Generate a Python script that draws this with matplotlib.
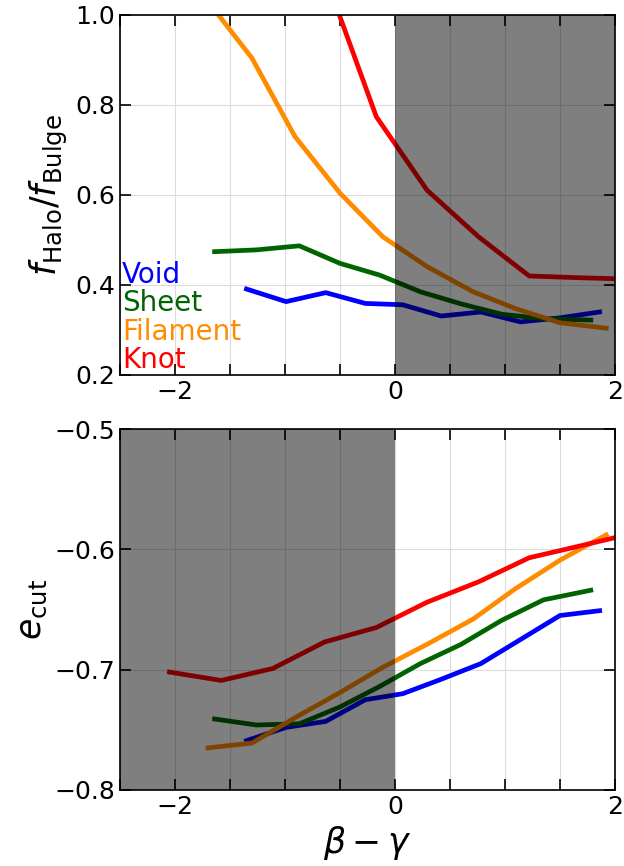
import matplotlib.pyplot as plt
from matplotlib.ticker import MultipleLocator

# top panel: f_Halo / f_Bulge
x_void = [-1.35, -0.99, -0.63, -0.27, 0.07, 0.42, 0.78, 1.14, 1.50, 1.86]
fr_void = [0.391, 0.363, 0.383, 0.359, 0.356, 0.331, 0.340, 0.318, 0.327, 0.340]
x_sheet = [-1.64, -1.26, -0.87, -0.50, -0.14, 0.23, 0.60, 0.97, 1.35, 1.78]
fr_sheet = [0.474, 0.478, 0.487, 0.448, 0.422, 0.385, 0.358, 0.335, 0.325, 0.322]
x_fil = [-1.70, -1.30, -0.91, -0.50, -0.11, 0.29, 0.71, 1.09, 1.50, 1.92]
fr_fil = [1.03, 0.904, 0.730, 0.604, 0.507, 0.441, 0.385, 0.348, 0.316, 0.304]
x_knot = [-2.05, -1.58, -1.11, -0.64, -0.17, 0.29, 0.76, 1.22, 1.69, 2.15]
fr_knot = [None, None, None, 1.09, 0.774, 0.611, 0.507, 0.420, 0.416, 0.413]

# bottom panel: e_cut
ec_void = [-0.759, -0.748, -0.743, -0.725, -0.720, -0.708, -0.695, -0.675, -0.655, -0.651]
ec_sheet = [-0.741, -0.746, -0.745, -0.731, -0.714, -0.695, -0.679, -0.659, -0.642, -0.634]
ec_fil = [-0.765, -0.761, -0.740, -0.719, -0.698, -0.679, -0.658, -0.633, -0.609, -0.588]
ec_knot = [-0.702, -0.709, -0.699, -0.677, -0.665, -0.644, -0.627, -0.607, -0.597, -0.587]

names = ["Void", "Sheet", "Filament", "Knot"]
colors = ["#0000ff", "#006400", "#ff8c00", "#ff0000"]

fig = plt.figure(figsize=(6.24, 8.66), dpi=100)
ax1 = fig.add_axes([0.1923, 0.567, 0.7933, 0.4157])
ax2 = fig.add_axes([0.1923, 0.0878, 0.7933, 0.4168])

top = [(x_void, fr_void), (x_sheet, fr_sheet), (x_fil, fr_fil), (x_knot, fr_knot)]
bot = [(x_void, ec_void), (x_sheet, ec_sheet), (x_fil, ec_fil), (x_knot, ec_knot)]

for (x, y), c in zip(top, colors):
    pts = [(a, b) for a, b in zip(x, y) if b is not None]
    ax1.plot([p[0] for p in pts], [p[1] for p in pts], color=c, lw=3.4, zorder=2)
for (x, y), c in zip(bot, colors):
    ax2.plot(x, y, color=c, lw=3.4, zorder=2)

ax1.axvspan(0, 2, color="k", alpha=0.5, lw=0, zorder=3)
ax2.axvspan(-2.5, 0, color="k", alpha=0.5, lw=0, zorder=3)

ax1.set_ylim(0.2, 1.0)
ax2.set_ylim(-0.8, -0.5)
ax1.yaxis.set_major_locator(MultipleLocator(0.2))
ax2.yaxis.set_major_locator(MultipleLocator(0.1))

for ax in (ax1, ax2):
    ax.set_xlim(-2.5, 2)
    ax.xaxis.set_major_locator(MultipleLocator(2))
    ax.xaxis.set_minor_locator(MultipleLocator(0.5))
    ax.grid(True, which="both", color="#dcdcdc", lw=0.8, zorder=1)
    ax.set_axisbelow(True)
    ax.tick_params(which="both", direction="in", top=True, right=True,
                   length=8, width=1.2, labelsize=18, zorder=5)
    for s in ax.spines.values():
        s.set_linewidth(1.2)
        s.set_zorder(5)

ax1.set_ylabel(r"$f_{\rm Halo}/f_{\rm Bulge}$", fontsize=25)
ax2.set_ylabel(r"$e_{\rm cut}$", fontsize=25)
ax2.set_xlabel(r"$\beta - \gamma$", fontsize=25)

for i, (n, c) in enumerate(zip(names, colors)):
    ax1.text(0.004, 0.278 - i * 0.079, n, color=c, fontsize=20,
             transform=ax1.transAxes, va="center", ha="left", zorder=6)

fig.savefig("out.png", dpi=100)
